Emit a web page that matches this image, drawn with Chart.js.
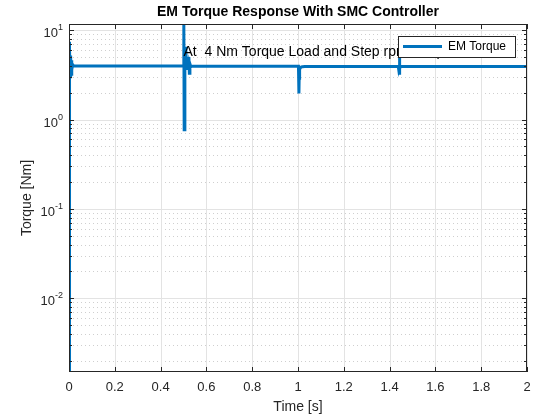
<!DOCTYPE html>
<html>
<head>
<meta charset="utf-8">
<script src="https://cdn.jsdelivr.net/npm/chart.js@4.4.0/dist/chart.umd.min.js"></script>
<style>
  html, body { margin: 0; padding: 0; background: #fff; }
  #wrap { width: 535px; height: 416px; }
</style>
</head>
<body>
<div id="wrap"><canvas id="torqueChart" width="535" height="416"></canvas></div>
<script>
// simulated electromagnetic torque, SMC speed controller
const timeS = [
  0, 0.0015, 0.003, 0.005, 0.007, 0.009, 0.011, 0.013, 0.016, 0.02,
  0.4995, 0.5015, 0.503, 0.506, 0.51, 0.513, 0.517, 0.521, 0.5235, 0.5255, 0.528, 0.532, 0.54,
  1.002, 1.004, 1.005, 1.006, 1.008, 1.011, 1.015, 1.02, 1.03,
  1.438, 1.44, 1.442, 1.443, 1.4445, 1.447, 1.452, 2.0
];
const torqueNm = [
  0.0015, 7.4, 6.2, 3.0, 5.2, 3.2, 4.6, 3.6, 4.1, 3.97,
  3.97, 11.7, 0.77, 3.8, 6.5, 3.6, 4.3, 3.8, 5.0, 3.3, 4.2, 3.9, 3.95,
  3.95, 1.95, 2.9, 3.35, 3.65, 3.8, 3.87, 3.9, 3.92,
  3.92, 3.6, 3.3, 4.9, 3.7, 3.9, 3.92, 3.92
];

const xTicks = [0, 0.2, 0.4, 0.6, 0.8, 1, 1.2, 1.4, 1.6, 1.8, 2];
const xTickLabels = ['0', '0.2', '0.4', '0.6', '0.8', '1', '1.2', '1.4', '1.6', '1.8', '2'];
const yDecades = [0.01, 0.1, 1, 10];
const yDecadeExp = ['-2', '-1', '0', '1'];
const yMin = 0.0015;
const yMax = 11.7;

const noteText = 'At  4 Nm Torque Load and Step rpm Response';
const notePos = { x: 0.5, y: 5.6 };

const FONT = '"Liberation Sans", Arial, sans-serif';
const LINE_BLUE = '#0072BD';
const AXIS_INK = '#262626';

const matlabAxes = {
  id: 'matlabAxes',
  beforeDatasetsDraw(chart) {
    const { ctx, chartArea: a, scales: { x, y } } = chart;
    ctx.save();
    ctx.lineWidth = 1;

    // minor log grid (dotted)
    ctx.strokeStyle = '#cfcfcf';
    ctx.setLineDash([1, 3]);
    for (let e = -3; e <= 1; e++) {
      for (let k = 2; k <= 9; k++) {
        const v = k * Math.pow(10, e);
        if (v < yMin || v > yMax) continue;
        const py = Math.round(y.getPixelForValue(v)) + 0.5;
        ctx.beginPath();
        ctx.moveTo(a.left, py);
        ctx.lineTo(a.right, py);
        ctx.stroke();
      }
    }

    // major grid
    ctx.setLineDash([]);
    ctx.strokeStyle = '#e3e3e3';
    xTicks.forEach(t => {
      const px = Math.round(x.getPixelForValue(t)) + 0.5;
      ctx.beginPath();
      ctx.moveTo(px, a.top);
      ctx.lineTo(px, a.bottom);
      ctx.stroke();
    });
    yDecades.forEach(v => {
      const py = Math.round(y.getPixelForValue(v)) + 0.5;
      ctx.beginPath();
      ctx.moveTo(a.left, py);
      ctx.lineTo(a.right, py);
      ctx.stroke();
    });
    ctx.restore();
  },
  afterDatasetsDraw(chart) {
    const { ctx, chartArea: a, scales: { x, y } } = chart;
    ctx.save();

    // axes box
    ctx.strokeStyle = AXIS_INK;
    ctx.lineWidth = 1;
    ctx.strokeRect(a.left + 0.5, a.top + 0.5, a.right - a.left - 1, a.bottom - a.top - 1);

    // tick marks pointing inward
    ctx.beginPath();
    xTicks.forEach(t => {
      const px = Math.round(x.getPixelForValue(t)) + 0.5;
      ctx.moveTo(px, a.bottom); ctx.lineTo(px, a.bottom - 5);
      ctx.moveTo(px, a.top); ctx.lineTo(px, a.top + 5);
    });
    for (let e = -3; e <= 1; e++) {
      for (let k = 1; k <= 9; k++) {
        const v = k * Math.pow(10, e);
        if (v < yMin || v > yMax) continue;
        const len = k === 1 ? 5 : 3;
        const py = Math.round(y.getPixelForValue(v)) + 0.5;
        ctx.moveTo(a.left, py); ctx.lineTo(a.left + len, py);
        ctx.moveTo(a.right, py); ctx.lineTo(a.right - len, py);
      }
    }
    ctx.stroke();

    // x tick labels
    ctx.fillStyle = AXIS_INK;
    ctx.font = '13px ' + FONT;
    ctx.textAlign = 'center';
    ctx.textBaseline = 'middle';
    xTicks.forEach((t, i) => {
      ctx.fillText(xTickLabels[i], x.getPixelForValue(t), a.bottom + 15);
    });

    // y tick labels as 10^n
    yDecades.forEach((v, i) => {
      const py = y.getPixelForValue(v);
      ctx.font = '9px ' + FONT;
      const ew = ctx.measureText(yDecadeExp[i]).width;
      ctx.textAlign = 'right';
      ctx.textBaseline = 'alphabetic';
      ctx.fillText(yDecadeExp[i], a.left - 6, py);
      ctx.font = '13px ' + FONT;
      ctx.fillText('10', a.left - 6 - ew, py + 7);
    });

    // axis titles
    ctx.font = '14px ' + FONT;
    ctx.textAlign = 'center';
    ctx.textBaseline = 'middle';
    ctx.fillText('Time [s]', (a.left + a.right) / 2, 407);
    ctx.save();
    ctx.translate(27, (a.top + a.bottom) / 2);
    ctx.rotate(-Math.PI / 2);
    ctx.fillText('Torque [Nm]', 0, 0);
    ctx.restore();

    // chart title
    ctx.fillStyle = '#000';
    ctx.font = 'bold 14px ' + FONT;
    ctx.fillText('EM Torque Response With SMC Controller', (a.left + a.right) / 2, 12);

    // text note inside the axes
    ctx.font = '14px ' + FONT;
    ctx.textAlign = 'left';
    ctx.fillText(noteText, x.getPixelForValue(notePos.x), y.getPixelForValue(notePos.y));

    // legend box
    const lx = 398, ly = 36, lw = 117, lh = 21;
    ctx.fillStyle = '#fff';
    ctx.fillRect(lx, ly, lw, lh);
    ctx.strokeStyle = AXIS_INK;
    ctx.lineWidth = 1;
    ctx.strokeRect(lx + 0.5, ly + 0.5, lw, lh);
    ctx.strokeStyle = LINE_BLUE;
    ctx.lineWidth = 3;
    ctx.beginPath();
    ctx.moveTo(lx + 5, ly + 10.5);
    ctx.lineTo(lx + 44, ly + 10.5);
    ctx.stroke();
    ctx.fillStyle = '#000';
    ctx.font = '12px ' + FONT;
    ctx.textBaseline = 'middle';
    ctx.fillText(chart.data.datasets[0].label, lx + 50, ly + 11);

    ctx.restore();
  }
};

const ctx = document.getElementById('torqueChart').getContext('2d');
new Chart(ctx, {
  type: 'line',
  data: {
    datasets: [{
      label: 'EM Torque',
      data: timeS.map((t, i) => ({ x: t, y: torqueNm[i] })),
      borderColor: LINE_BLUE,
      borderWidth: 3,
      pointRadius: 0,
      tension: 0,
      fill: false
    }]
  },
  options: {
    responsive: false,
    animation: false,
    devicePixelRatio: 1,
    layout: { padding: { left: 69, top: 24, right: 8, bottom: 44 } },
    plugins: { legend: { display: false }, tooltip: { enabled: false } },
    scales: {
      x: { type: 'linear', min: 0, max: 2, display: false },
      y: { type: 'logarithmic', min: yMin, max: yMax, display: false }
    }
  },
  plugins: [matlabAxes]
});
</script>
</body>
</html>
